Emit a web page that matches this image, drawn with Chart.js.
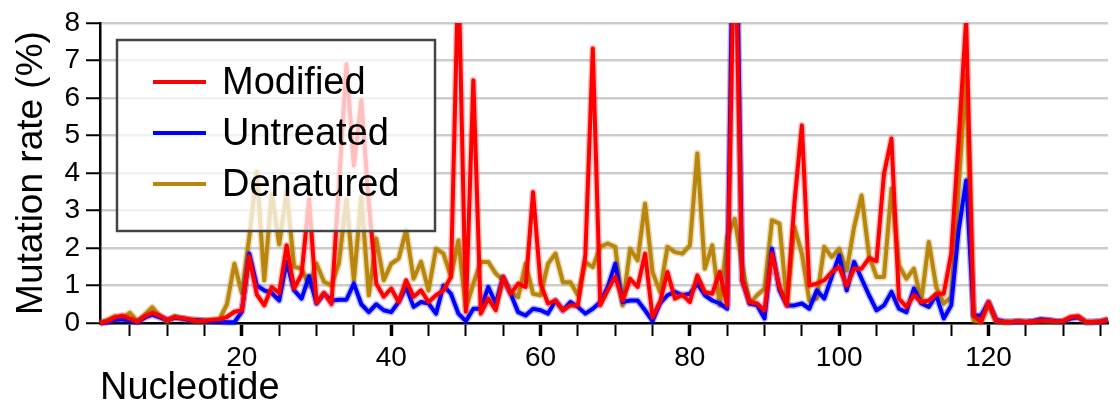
<!DOCTYPE html>
<html>
<head>
<meta charset="utf-8">
<script src="https://cdn.jsdelivr.net/npm/chart.js@4.4.0/dist/chart.umd.min.js"></script>
<style>
  html, body { margin: 0; padding: 0; background: #fff; }
  #wrap { width: 1120px; height: 413px; }
</style>
</head>
<body>
<div id="wrap"><canvas id="rateChart" width="1120" height="413"></canvas></div>
<script>
var FIRST_NT = 1;
var LAST_NT = 136;

var MODIFIED = [
  0, 0.05, 0.15, 0.2, 0.12, 0.03, 0.18, 0.27, 0.2, 0.08,
  0.15, 0.13, 0.1, 0.06, 0.06, 0.09, 0.1, 0.16, 0.3, 0.34,
  1.77, 0.76, 0.47, 0.96, 0.8, 2.07, 0.92, 1.3, 3.3, 0.54,
  0.8, 0.5, 3.7, 6.9, 4.2, 5.94, 3.2, 1.05, 0.7, 0.92,
  0.56, 1.14, 0.7, 0.87, 0.56, 0.74, 0.87, 1.23, 9.5, 0.3,
  6.47, 0.25, 0.65, 0.34, 1.23, 0.78, 1.05, 0.96, 3.49, 1.05,
  0.52, 0.6, 0.34, 0.47, 0.47, 1.8, 7.32, 0.47, 0.87, 1.23,
  0.6, 1.18, 0.96, 1.85, 0.16, 0.56, 1.36, 0.65, 0.75, 0.56,
  1.27, 0.83, 0.78, 1.36, 0.47, 11, 1.14, 0.56, 0.52, 0.34,
  1.85, 0.96, 0.47, 3.2, 5.27, 1.0, 1.05, 1.14, 1.36, 1.49,
  1.0, 1.45, 1.45, 1.73, 1.65, 3.98, 4.92, 0.65, 0.43, 0.74,
  0.56, 0.6, 0.78, 0.78, 1.85, 4.87, 8.1, 0.2, 0.03, 0.56,
  0.07, 0.03, 0.03, 0.05, 0.03, 0.04, 0.07, 0.07, 0.04, 0.05,
  0.16, 0.18, 0.03, 0.03, 0.04, 0.09
];

var UNTREATED = [
  0, 0.02, 0.08, 0.1, 0.06, 0.03, 0.14, 0.22, 0.15, 0.08,
  0.14, 0.12, 0.08, 0.08, 0.06, 0.05, 0.04, 0.02, 0.02, 0.3,
  1.85, 1.0, 0.87, 0.8, 0.6, 1.63, 0.87, 0.65, 1.25, 0.52,
  0.78, 0.6, 0.62, 0.62, 1.05, 0.5, 0.29, 0.5, 0.34, 0.29,
  0.56, 0.96, 0.43, 0.56, 0.52, 0.25, 1.0, 0.78, 0.25, 0.05,
  0.38, 0.38, 0.96, 0.52, 1.23, 0.78, 0.29, 0.2, 0.38, 0.34,
  0.25, 0.6, 0.34, 0.56, 0.43, 0.25, 0.38, 0.56, 0.96, 1.58,
  0.56, 0.6, 0.6, 0.34, 0.05, 0.52, 0.74, 0.83, 0.74, 0.78,
  1.05, 0.74, 0.6, 0.52, 0.38, 14, 1.14, 0.52, 0.47, 0.12,
  1.98, 0.87, 0.47, 0.47, 0.52, 0.38, 0.87, 0.65, 1.23, 1.8,
  0.87, 1.63, 1.18, 0.74, 0.34, 0.47, 0.83, 0.38, 0.29, 0.92,
  0.52, 0.43, 0.74, 0.12, 0.47, 2.47, 3.8, 0.2, 0.2, 0.56,
  0.09, 0.04, 0.03, 0.04, 0.03, 0.05, 0.1, 0.08, 0.05, 0.04,
  0.12, 0.15, 0.03, 0.03, 0.04, 0.08
];

var DENATURED = [
  0, 0.08, 0.18, 0.12, 0.27, 0.05, 0.22, 0.42, 0.18, 0.05,
  0.18, 0.12, 0.08, 0.06, 0.06, 0.06, 0.1, 0.5, 1.58, 0.8,
  2.3, 4.03, 1.14, 3.45, 2.1, 3.5, 1.5, 1.45, 1.0, 1.58,
  1.1, 1.0, 1.6, 3.3, 1.14, 3.36, 0.74, 2.25, 1.14, 1.58,
  1.72, 2.47, 1.18, 1.63, 0.87, 1.98, 1.85, 1.23, 2.2, 0.38,
  1.05, 1.63, 1.63, 1.32, 1.14, 0.83, 0.69, 1.58, 0.78, 0.74,
  1.58, 1.85, 1.09, 1.09, 0.74, 1.62, 1.49, 2.03, 2.12, 2.03,
  0.47, 1.98, 1.67, 3.18, 1.36, 0.83, 2.03, 1.89, 1.85, 2.07,
  4.52, 1.45, 2.07, 0.47, 2.29, 2.78, 1.54, 0.52, 0.74, 0.92,
  2.74, 2.65, 0.52, 2.56, 1.85, 0.6, 0.65, 2.03, 1.76, 1.98,
  1.4, 2.56, 3.4, 1.8, 1.23, 1.23, 3.58, 1.54, 1.18, 1.45,
  0.6, 2.16, 0.96, 0.52, 0.69, 3.63, 6.6, 0.07, 0.03, 0.5,
  0.05, 0.03, 0.03, 0.05, 0.03, 0.04, 0.08, 0.06, 0.04, 0.05,
  0.14, 0.16, 0.03, 0.03, 0.04, 0.1
];

var Y_TICKS = [0, 1, 2, 3, 4, 5, 6, 7, 8];
var X_TICKS = [5, 10, 15, 20, 25, 30, 35, 40, 45, 50, 55, 60, 65, 70, 75, 80,
  85, 90, 95, 100, 105, 110, 115, 120, 125, 130, 135];
var X_LABELS = [20, 40, 60, 80, 100, 120];

// legend order top to bottom; drawn bottom-up (Denatured first, Modified last)
var SERIES = [
  { label: 'Modified', values: MODIFIED, color: '#ff0000', band: 'rgba(255,0,0,0.25)' },
  { label: 'Untreated', values: UNTREATED, color: '#0000ff', band: 'rgba(0,0,255,0.25)' },
  { label: 'Denatured', values: DENATURED, color: '#b8860b', band: 'rgba(184,134,11,0.3)' },
];

var FONT = "'Liberation Sans', Arial, Helvetica, sans-serif";
Chart.defaults.font.family = FONT;
Chart.defaults.color = '#000';

function toPoints(values) {
  var pts = [];
  for (var i = 0; i < values.length; i++) {
    pts.push({ x: FIRST_NT + i, y: values[i] });
  }
  return pts;
}

var datasets = [];
for (var i = 0; i < SERIES.length; i++) {
  var s = SERIES[i];
  var pts = toPoints(s.values);
  // faint error band under each line
  datasets.push({
    label: s.label + ' band',
    data: pts,
    borderColor: s.band,
    borderWidth: 7,
    borderJoinStyle: 'round',
    pointRadius: 0,
    tension: 0,
    clip: { left: 2, top: 0, right: 2, bottom: 4 },
    order: i * 2 + 1,
  });
  datasets.push({
    label: s.label,
    data: pts,
    borderColor: s.color,
    borderWidth: 4,
    borderJoinStyle: 'round',
    pointRadius: 0,
    tension: 0,
    clip: { left: 2, top: 0, right: 2, bottom: 4 },
    order: i * 2,
  });
}

var legendBox = {
  id: 'legendBox',
  afterDatasetsDraw: function (chart) {
    var ctx = chart.ctx;
    var a = chart.chartArea;
    var x = a.left + 17, y = a.top + 17, w = 318, h = 191;
    ctx.save();
    ctx.fillStyle = 'rgba(255,255,255,0.75)';
    ctx.fillRect(x, y, w, h);
    ctx.lineWidth = 2.5;
    ctx.strokeStyle = '#444';
    ctx.strokeRect(x, y, w, h);
    ctx.font = '38px ' + FONT;
    ctx.textBaseline = 'middle';
    ctx.textAlign = 'left';
    for (var i = 0; i < SERIES.length; i++) {
      var rowY = y + 42 + i * 51;
      ctx.strokeStyle = SERIES[i].color;
      ctx.lineWidth = 4;
      ctx.beginPath();
      ctx.moveTo(x + 36, rowY);
      ctx.lineTo(x + 89, rowY);
      ctx.stroke();
      ctx.fillStyle = '#000';
      ctx.fillText(SERIES[i].label, x + 105, rowY + 2);
    }
    ctx.restore();
  },
};

new Chart(document.getElementById('rateChart'), {
  type: 'line',
  data: { datasets: datasets },
  plugins: [legendBox],
  options: {
    responsive: false,
    animation: false,
    devicePixelRatio: 1,
    layout: { padding: { top: 23, right: 12, left: 0, bottom: 0 } },
    plugins: { legend: { display: false }, tooltip: { enabled: false } },
    scales: {
      x: {
        type: 'linear',
        min: FIRST_NT,
        max: LAST_NT,
        afterBuildTicks: function (scale) {
          scale.ticks = X_TICKS.map(function (v) { return { value: v }; });
        },
        afterFit: function (scale) { scale.height = 90; },
        grid: {
          drawOnChartArea: false,
          drawTicks: true,
          tickLength: 13,
          tickColor: '#000',
          tickWidth: function (c) {
            return c.tick && X_LABELS.indexOf(c.tick.value) >= 0 ? 3.5 : 2;
          },
        },
        border: { display: true, color: '#000', width: 2.5 },
        ticks: {
          autoSkip: false,
          maxRotation: 0,
          padding: 5,
          font: { size: 28 },
          color: '#000',
          callback: function (v) { return X_LABELS.indexOf(v) >= 0 ? String(v) : ''; },
        },
        title: {
          display: true,
          text: 'Nucleotide',
          align: 'start',
          font: { size: 38 },
          color: '#000',
          padding: { top: 0, bottom: 2 },
        },
      },
      y: {
        min: Y_TICKS[0],
        max: Y_TICKS[Y_TICKS.length - 1],
        afterBuildTicks: function (scale) {
          scale.ticks = Y_TICKS.map(function (v) { return { value: v }; });
        },
        afterFit: function (scale) { scale.width = 100; },
        grid: {
          color: '#cccccc',
          lineWidth: 2.5,
          tickColor: '#000',
          tickWidth: 2,
          tickLength: 14,
        },
        border: { display: true, color: '#000', width: 2.5 },
        ticks: { padding: 6, font: { size: 28 }, color: '#000' },
        title: {
          display: true,
          text: 'Mutation rate (%)',
          font: { size: 37 },
          color: '#000',
          padding: { top: 10, bottom: 0 },
        },
      },
    },
  },
});
</script>
</body>
</html>
